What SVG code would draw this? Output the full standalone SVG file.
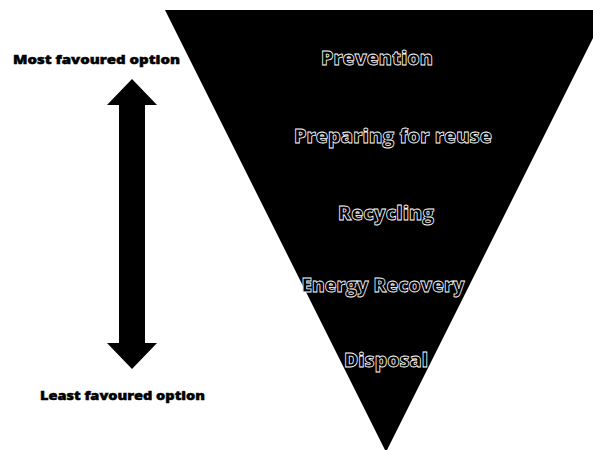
<svg xmlns="http://www.w3.org/2000/svg" width="593" height="450" viewBox="0 0 593 450">
<style>
.lvl{font-family:"Open Sans","Liberation Sans",sans-serif;font-weight:800;font-size:20px;fill:#000;stroke:#fff;stroke-width:0.8px;text-anchor:middle}
.side{font-family:"Open Sans","Liberation Sans",sans-serif;font-weight:800;font-size:13px;fill:#000;stroke:#000;stroke-width:0.5px}
</style>
<rect width="593" height="450" fill="#fff"/>
<g id="pyramid">
<polygon points="165,10 607,10 386,452" fill="#000"/>
</g>
<g id="prevention"><text class="lvl" x="377" y="65" textLength="112" lengthAdjust="spacingAndGlyphs">Prevention</text></g>
<g id="preparing"><text class="lvl" x="393" y="143" textLength="198" lengthAdjust="spacingAndGlyphs">Preparing for reuse</text></g>
<g id="recycling"><text class="lvl" x="386" y="220" textLength="96" lengthAdjust="spacingAndGlyphs">Recycling</text></g>
<g id="energy"><text class="lvl" x="383" y="292" textLength="163" lengthAdjust="spacingAndGlyphs">Energy Recovery</text></g>
<g id="disposal"><text class="lvl" x="386" y="367" textLength="84" lengthAdjust="spacingAndGlyphs">Disposal</text></g>
<g id="most"><text class="side" x="13" y="64" textLength="167" lengthAdjust="spacingAndGlyphs">Most favoured option</text></g>
<g id="least"><text class="side" x="40" y="400" textLength="165" lengthAdjust="spacingAndGlyphs">Least favoured option</text></g>
<g id="connectors">
<polygon points="132,79 157,105 145,105 145,343 157,343 132,369 107,343 119,343 119,105 107,105" fill="#000"/>
</g>
</svg>
